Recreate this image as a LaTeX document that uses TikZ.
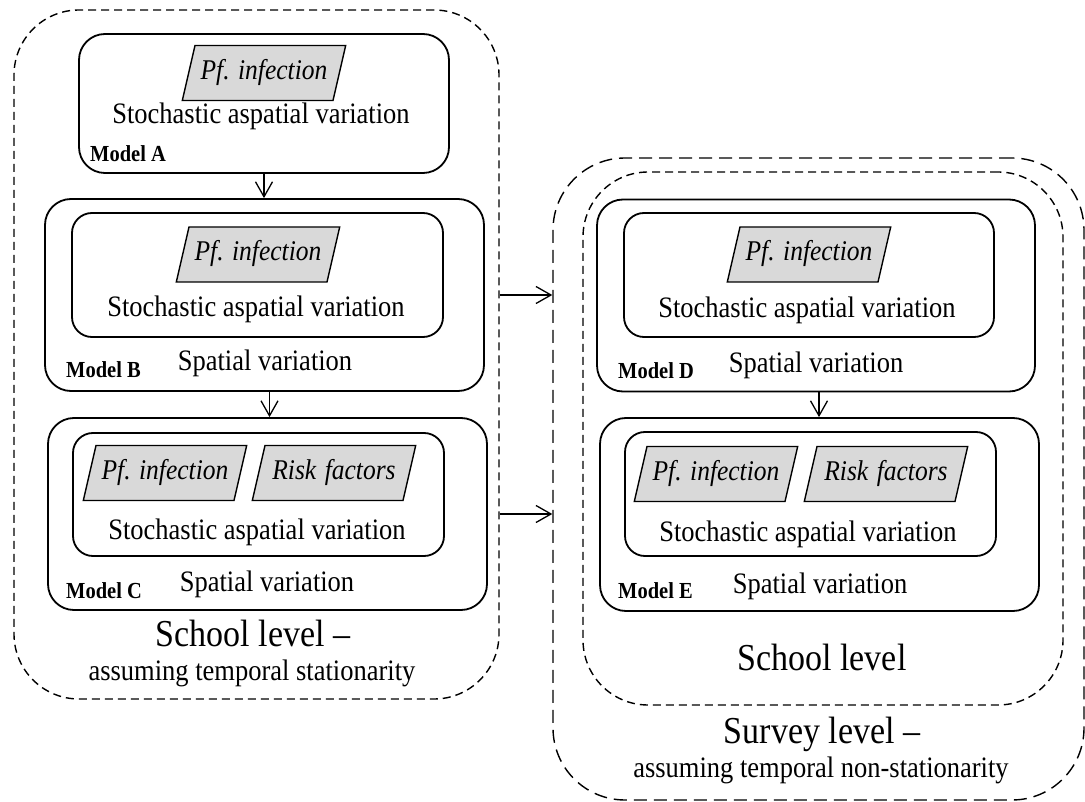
\documentclass[tikz,border=0pt]{standalone}
\usepackage{graphicx}
\usepackage{fontspec}
\setmainfont{Liberation Serif}
\usetikzlibrary{shapes.geometric,arrows.meta}
\frenchspacing
% slightly tall lettering
\newcommand{\tl}[1]{\scalebox{1}[1.12]{#1}}
\begin{document}
\begin{tikzpicture}[x=1pt,y=-1pt,
  group/.style={draw, line width=1.4pt, dash pattern=on 8pt off 5pt, rounded corners=65pt, inner sep=0pt},
  survey/.style={draw, line width=1.4pt, dash pattern=on 13pt off 7pt, rounded corners=72pt, inner sep=0pt},
  model/.style={draw, line width=1.8pt, rounded corners=26pt, inner sep=0pt},
  core/.style={draw, line width=1.8pt, rounded corners=20pt, inner sep=0pt},
  data/.style={trapezium, trapezium left angle=77, trapezium right angle=103, draw, line width=1.4pt,
    fill=gray!30, font=\fontsize{25.5}{30}\selectfont\itshape, text width=136pt, align=center,
    text height=19pt, text depth=6pt, inner xsep=1pt, inner ysep=15pt},
  txt/.style={font=\fontsize{26.5}{30}\selectfont, anchor=base, inner sep=0pt},
  tag/.style={font=\fontsize{20.5}{24}\selectfont\bfseries, anchor=base west, inner sep=0pt},
  big/.style={font=\fontsize{34}{40}\selectfont, anchor=base, inner sep=0pt},
  arr/.style={-{Straight Barb[length=15pt,width=17pt]}, line width=1.3pt}]
\useasboundingbox (0,0) rectangle (1085,802);

% school level, temporal stationarity
\node[group, minimum width=485pt, minimum height=689pt] (L) at (256.5,354.5) {};
\node[model, minimum width=370pt, minimum height=139pt] (A) at (264,103.5) {};
\node[model, minimum width=439pt, minimum height=192pt] (B) at (264.5,295) {};
\node[core, minimum width=371pt, minimum height=124pt] (Bi) at (257.5,275) {};
\node[model, minimum width=439pt, minimum height=192pt] (C) at (267.5,514) {};
\node[core, minimum width=371pt, minimum height=123pt] (Ci) at (258.5,494.5) {};

\node[data] (Ap) at (264,73) {\tl{Pf. infection}};
\node[txt] (As) at (261,124) {\tl{Stochastic aspatial variation}};
\node[tag] (At) at (90,162) {\tl{Model A}};

\node[data] (Bp) at (258,254.5) {\tl{Pf. infection}};
\node[txt] (Bs) at (256,317) {\tl{Stochastic aspatial variation}};
\node[txt] (Bv) at (265,371) {\tl{Spatial variation}};
\node[tag] (Bt) at (66,378) {\tl{Model B}};

\node[data] (Cp) at (165,473) {\tl{Pf. infection}};
\node[data] (Cr) at (334,473) {\tl{Risk factors}};
\node[txt] (Cs) at (257,539) {\tl{Stochastic aspatial variation}};
\node[txt] (Cv) at (267,591) {\tl{Spatial variation}};
\node[tag] (Ct) at (66,598) {\tl{Model C}};

\node[big] (Lt) at (253,646) {\tl{School level --}};
\node[txt] (Ls) at (252,680) {\tl{assuming temporal stationarity}};

% survey level, temporal non-stationarity
\node[survey, minimum width=531pt, minimum height=642pt] (R) at (818.5,479) {};
\node[group, minimum width=480pt, minimum height=533pt] (S) at (823,438.5) {};
\node[model, minimum width=438pt, minimum height=192pt] (D) at (816,295.5) {};
\node[core, minimum width=370pt, minimum height=124pt] (Di) at (809,275) {};
\node[model, minimum width=439pt, minimum height=193pt] (E) at (819.5,514.5) {};
\node[core, minimum width=371pt, minimum height=124pt] (Ei) at (810.5,494) {};

\node[data] (Dp) at (809,254.5) {\tl{Pf. infection}};
\node[txt] (Ds) at (807,318) {\tl{Stochastic aspatial variation}};
\node[txt] (Dv) at (816,373) {\tl{Spatial variation}};
\node[tag] (Dt) at (618,379) {\tl{Model D}};

\node[data] (Ep) at (716,474) {\tl{Pf. infection}};
\node[data] (Er) at (886,474) {\tl{Risk factors}};
\node[txt] (Es) at (808,541) {\tl{Stochastic aspatial variation}};
\node[txt] (Ev) at (820,593) {\tl{Spatial variation}};
\node[tag] (Et) at (618,598) {\tl{Model E}};

\node[big] (St) at (822,670) {\tl{School level}};
\node[big] (Rt) at (822,743) {\tl{Survey level --}};
\node[txt] (Rs) at (821,777) {\tl{assuming temporal non-stationarity}};

% connectors
\draw[arr] (A.south) -- (A.south |- B.north);
\draw[arr] ([xshift=5pt]B.south) -- ([xshift=5pt]B.south |- C.north);
\draw[arr] ([xshift=3pt]D.south) -- ([xshift=3pt]D.south |- E.north);
\draw[arr] (B.east -| L.east) -- (B.east -| R.west);
\draw[arr] (C.east -| L.east) -- (C.east -| R.west);
\end{tikzpicture}
\end{document}
